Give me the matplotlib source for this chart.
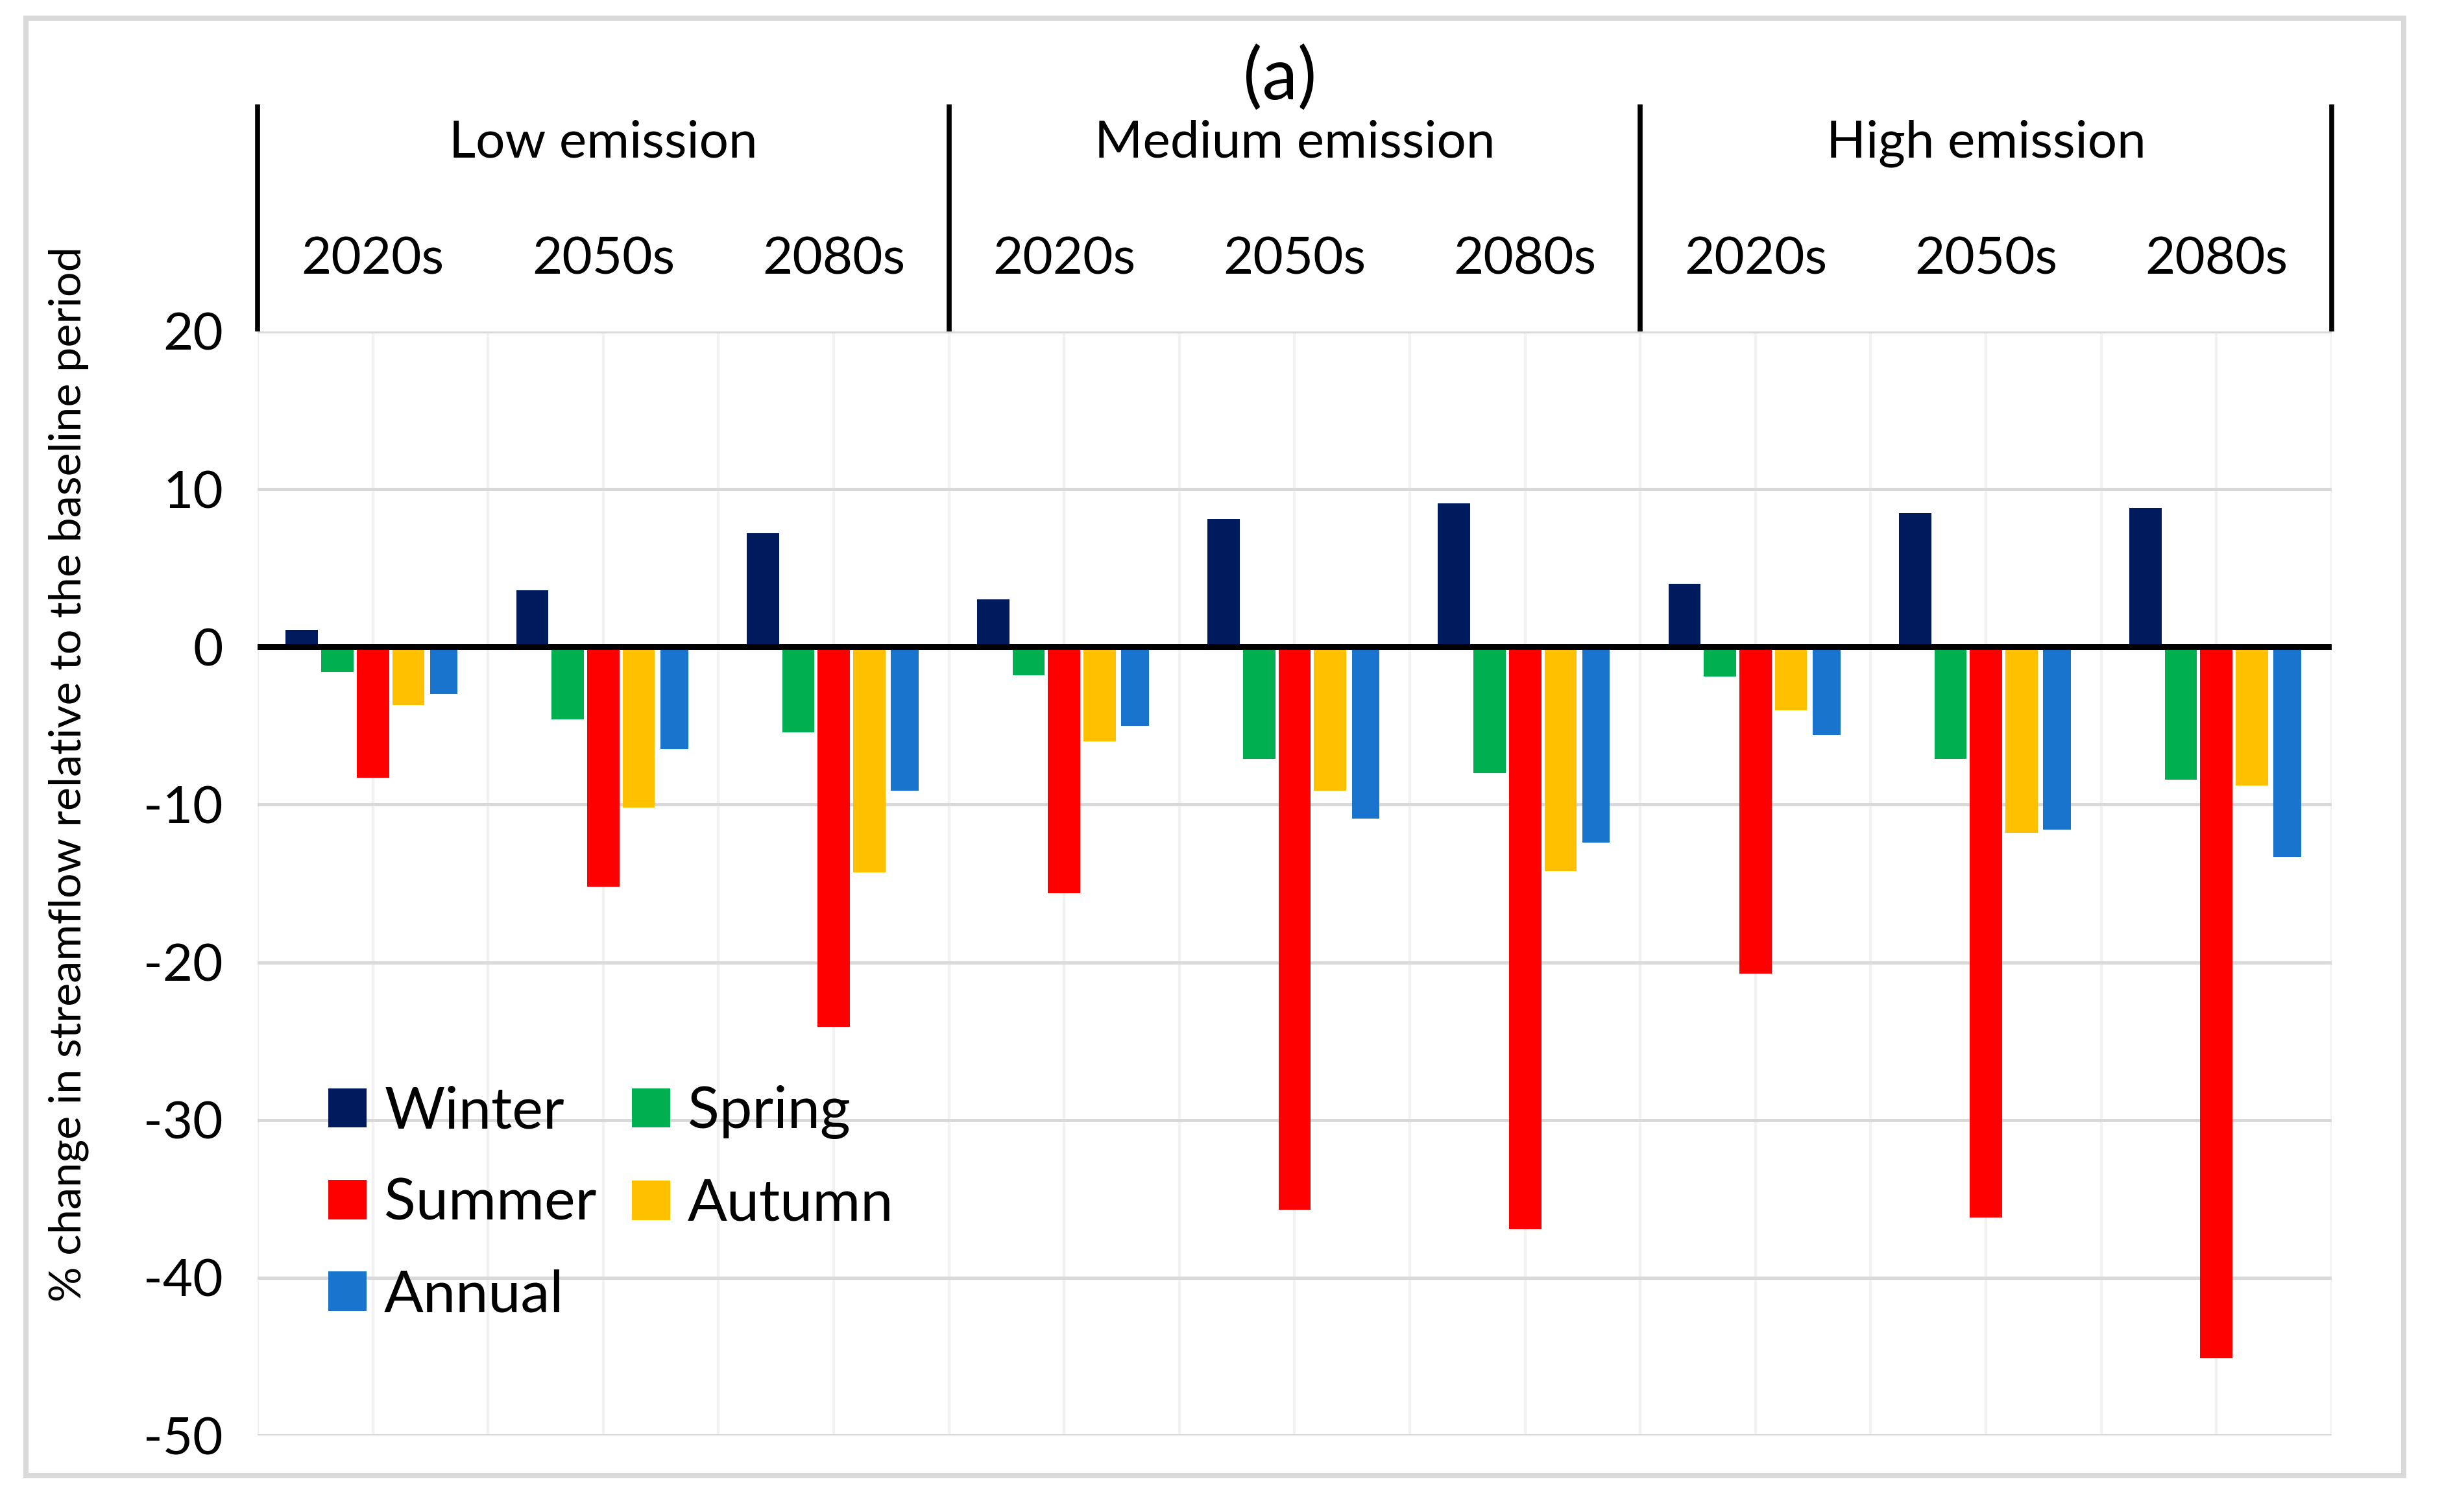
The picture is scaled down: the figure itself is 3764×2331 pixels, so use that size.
import numpy as np
import matplotlib
matplotlib.use("Agg")
import matplotlib.pyplot as plt
from matplotlib.patches import Rectangle

plt.rcParams['font.family'] = ['Lato', 'DejaVu Sans']
plt.rcParams['axes.unicode_minus'] = False

# Data
scenarios = ["Low emission", "Medium emission", "High emission"]
periods = ["2020s", "2050s", "2080s"]
seasons = ["Winter", "Spring", "Summer", "Autumn", "Annual"]
colors = ["#001A5E", "#00B050", "#FF0000", "#FFC000", "#1874CD"]

winter = [1.1, 3.6, 7.2, 3.0, 8.1, 9.1, 4.0, 8.5, 8.8]
spring = [-1.6, -4.6, -5.4, -1.8, -7.1, -8.0, -1.9, -7.1, -8.4]
summer = [-8.3, -15.2, -24.1, -15.6, -35.7, -36.9, -20.7, -36.2, -45.1]
autumn = [-3.7, -10.2, -14.3, -6.0, -9.1, -14.2, -4.0, -11.8, -8.8]
annual = [-3.0, -6.5, -9.1, -5.0, -10.9, -12.4, -5.6, -11.6, -13.3]
series = [winter, spring, summer, autumn, annual]

yticks = [-50, -40, -30, -20, -10, 0, 10, 20]

fig = plt.figure(figsize=(3764 / 240, 2331 / 240), dpi=240)
ax = fig.add_axes([0.1055, 0.0506, 0.8493, 0.7302])

# outer chart border
fig.patches.append(Rectangle((0.0106, 0.024), 0.9737, 0.964, transform=fig.transFigure,
                             fill=False, edgecolor="#D9D9D9", lw=2.4))

x = np.arange(len(winter))
step = 0.154
widths = [0.14, 0.14, 0.14, 0.14, 0.12]
bars = []
for i, (vals, c) in enumerate(zip(series, colors)):
    b = ax.bar(x + (i - 2) * step, vals, width=widths[i], color=c, label=seasons[i], zorder=2)
    bars.append(b)

ax.axhline(0, color="black", lw=2.7, zorder=3)

ax.set_xlim(-0.5, 8.5)
ax.set_ylim(-50, 20)
ax.set_yticks(yticks)
ax.set_yticklabels([str(v) for v in yticks])
ax.set_xticks([])
ax.set_xticks(np.arange(-0.5, 8.6, 0.5), minor=True)
ax.set_axisbelow(True)
ax.grid(axis="y", color="#D9D9D9", lw=1.5)
ax.grid(axis="x", which="minor", color="#F2F2F2", lw=1.3)
ax.tick_params(axis="y", length=0, pad=16, labelsize=24)
ax.tick_params(axis="x", which="both", length=0)
for s in ax.spines.values():
    s.set_visible(False)

# multi-level category header above the plot
trans = ax.get_xaxis_transform()
for k in range(4):
    ax.plot([k * 3 - 0.5, k * 3 - 0.5], [1.0, 1.2057], transform=trans,
            color="black", lw=2.3, clip_on=False, solid_capstyle="butt")
for k, name in enumerate(scenarios):
    ax.text(k * 3 + 1, 1.1705, name, transform=trans, ha="center", va="center", fontsize=24)
    for j, p in enumerate(periods):
        ax.text(k * 3 + j, 1.0650, p, transform=trans, ha="center", va="center", fontsize=24)

fig.text(0.524, 0.948, "(a)", ha="center", va="center", fontsize=33)
fig.text(0.028, 0.488, "% change in streamflow relative to the baseline period",
         rotation=90, ha="center", va="center", fontsize=20.5)

order = [0, 2, 4, 1, 3]
ax.legend([bars[i] for i in order], [seasons[i] for i in order], ncol=2,
          loc="upper left", bbox_to_anchor=(0.034, 0.317), frameon=False,
          fontsize=27, handlelength=0.66, handleheight=0.66, handletextpad=0.3,
          columnspacing=0.6, labelspacing=0.66, borderpad=0, borderaxespad=0)

fig.savefig("out.png", dpi=240)
